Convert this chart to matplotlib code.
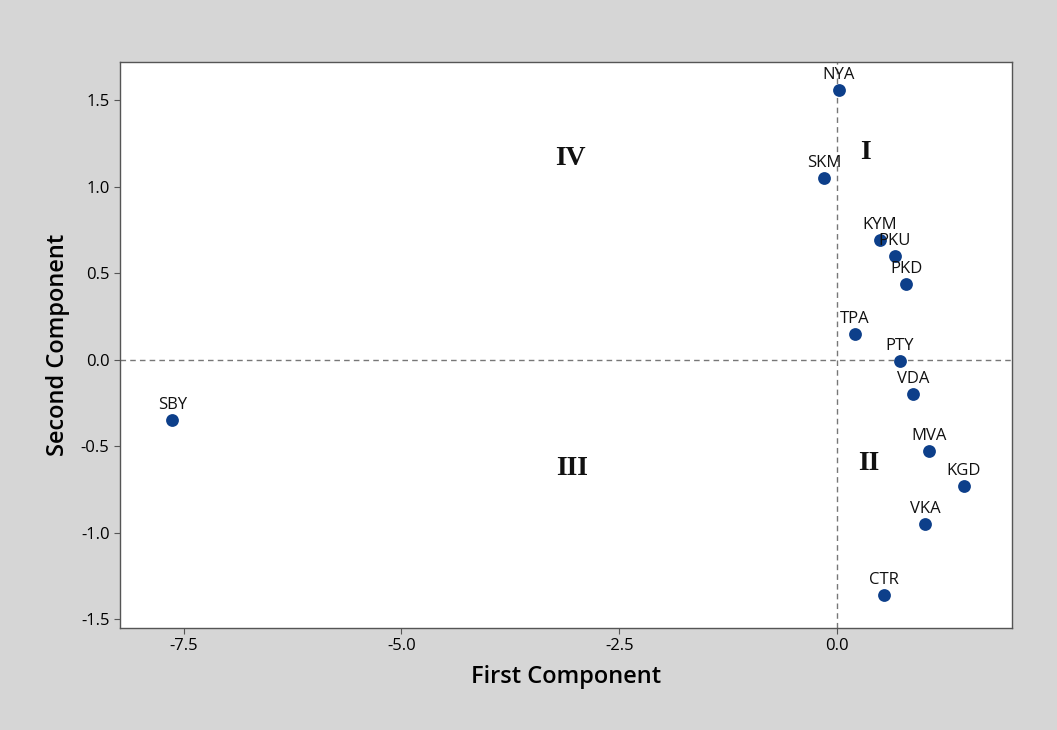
import matplotlib
matplotlib.use('Agg')
import matplotlib.pyplot as plt

plt.rcParams['font.family'] = ['Open Sans', 'DejaVu Sans']

# PCA score plot: first vs second component
sites = ['NYA', 'SKM', 'KYM', 'PKU', 'PKD', 'TPA', 'PTY', 'VDA',
         'MVA', 'KGD', 'VKA', 'CTR', 'SBY']
pc1 = [0.02, -0.15, 0.49, 0.66, 0.79, 0.20, 0.72, 0.87,
       1.05, 1.45, 1.01, 0.54, -7.63]
pc2 = [1.56, 1.05, 0.69, 0.60, 0.44, 0.15, -0.01, -0.20,
       -0.53, -0.73, -0.95, -1.36, -0.35]

quadrants = ['IV', 'I', 'III', 'II']
quad_x = [-3.06, 0.32, -3.04, 0.36]
quad_y = [1.16, 1.20, -0.63, -0.60]

xticks = [-7.5, -5.0, -2.5, 0.0]
yticks = [-1.5, -1.0, -0.5, 0.0, 0.5, 1.0, 1.5]

bg = '#d6d6d6'
fig = plt.figure(figsize=(10.57, 7.30), dpi=100, facecolor=bg)
ax = fig.add_axes([0.1135, 0.140, 0.8435, 0.775])
ax.set_facecolor('white')

# reference lines at zero
ax.axhline(0, color='#777777', linestyle=(0, (4, 3)), linewidth=1.0, zorder=1)
ax.axvline(0, color='#777777', linestyle=(0, (4, 3)), linewidth=1.0, zorder=1)

ax.scatter(pc1, pc2, s=85, color='#0d3f8a', zorder=3, linewidths=0)

for name, x, y in zip(sites, pc1, pc2):
    ax.annotate(name, (x, y), xytext=(0, 5), textcoords='offset points',
                ha='center', va='bottom', fontsize=12, color='#111111')

for q, x, y in zip(quadrants, quad_x, quad_y):
    ax.text(x, y, q, ha='center', va='center', fontsize=20, fontweight='bold',
            family=['Liberation Serif', 'DejaVu Serif'], color='#111111')

ax.set_xlim(-8.23, 2.0)
ax.set_ylim(-1.55, 1.72)
ax.set_xticks(xticks)
ax.set_yticks(yticks)
ax.set_xticklabels([f'{t:.1f}' for t in xticks])
ax.set_yticklabels([f'{t:.1f}' for t in yticks])
ax.tick_params(labelsize=12, length=4, color='#555555')

for spine in ax.spines.values():
    spine.set_color('#555555')
    spine.set_linewidth(1.0)

ax.set_xlabel('First Component', fontsize=17, fontweight='semibold', labelpad=8)
ax.set_ylabel('Second Component', fontsize=17, fontweight='semibold', labelpad=8)

fig.savefig('out.png', dpi=100, facecolor=bg)
